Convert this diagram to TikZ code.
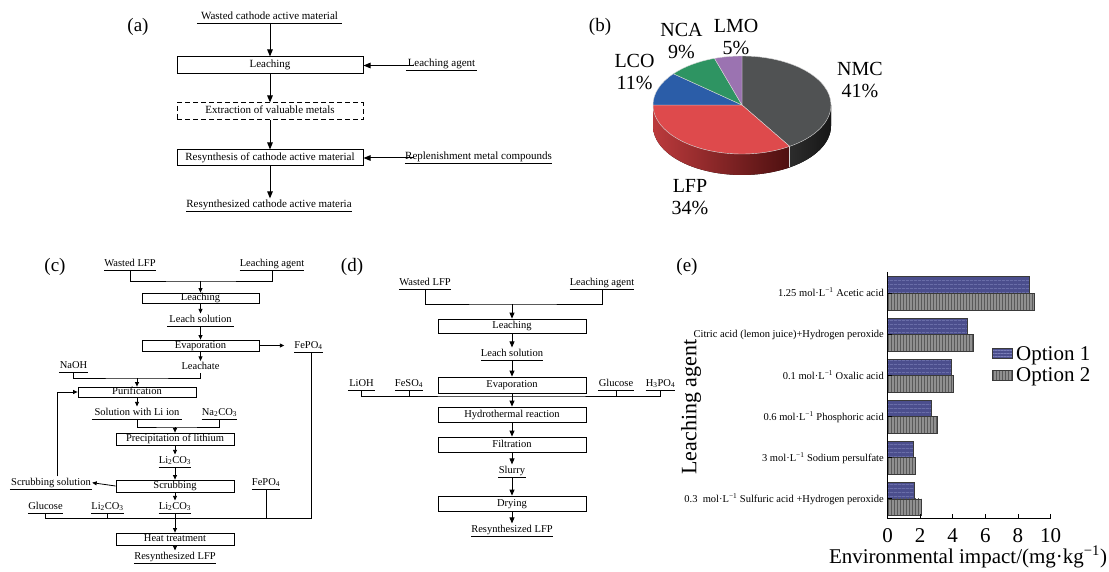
\documentclass[tikz,border=0pt]{standalone}
\usepackage{fontspec}
\setmainfont{Liberation Serif}
\usetikzlibrary{arrows.meta,patterns.meta}
\definecolor{nmcT}{HTML}{505253}
\definecolor{nmcS1}{HTML}{2C2C2C}
\definecolor{nmcS2}{HTML}{161616}
\definecolor{lfpT}{HTML}{DE4A4C}
\definecolor{lfpS1}{HTML}{BB3A3C}
\definecolor{lfpS2}{HTML}{4E1010}
\definecolor{lcoC}{HTML}{2B5DA8}
\definecolor{ncaC}{HTML}{2E9462}
\definecolor{lmoC}{HTML}{9B73B1}
\definecolor{oneF}{HTML}{4B4E8D}
\definecolor{oneL}{HTML}{7A7EB8}
\definecolor{twoF}{HTML}{909090}
\definecolor{twoL}{HTML}{5A5A5A}
\definecolor{edgeC}{HTML}{3A3A3A}
\definecolor{sepC}{HTML}{D8D8D8}
\begin{document}
\begin{tikzpicture}[x=1pt,y=-1pt,
  sm/.style={font=\fontsize{10.5}{12}\selectfont},
  sma/.style={font=\fontsize{11}{12}\selectfont},
  ul/.style={sm, inner xsep=0pt, inner ysep=1.2pt, text height=7.5pt, text depth=2.3pt, anchor=south},
  tx/.style={sm, inner sep=1pt, text height=7.5pt, text depth=2.3pt},
  bx/.style={draw, line width=0.8pt, sm, inner sep=0pt, text height=7pt, text depth=2pt, align=center},
  ln/.style={line width=0.8pt},
  arA/.style={line width=1pt, -{Triangle[length=7pt,width=5.5pt]}},
  arC/.style={ln, -{Triangle[length=4.5pt,width=4pt]}},
  arD/.style={ln, -{Triangle[length=6pt,width=5pt]}},
  pl/.style={font=\fontsize{19}{22}\selectfont},
  pielbl/.style={font=\fontsize{20}{22}\selectfont, align=center, inner sep=0pt},
  big/.style={font=\fontsize{21}{24}\selectfont},
  cat/.style={sm, anchor=base east, inner sep=0pt},
]
\fill[white] (0,0) rectangle (1109,572);
\useasboundingbox (0,0) rectangle (1109,572);

% ---------------- panel labels
\node[pl] (pa) at (138,27) {(a)};
\node[pl] (pb) at (600,27) {(b)};
\node[pl] (pc) at (55,267) {(c)};
\node[pl] (pd) at (352,267) {(d)};
\node[pl] (pe) at (687,267) {(e)};

% ---------------- (a)
\node[ul, sma, minimum width=145pt] (wa) at (269.5,23) {Wasted cathode active material};
\node[bx, sma, line width=1pt, minimum width=186pt, minimum height=17pt] (aleach) at (270,65.5) {Leaching};
\node[ul, sma, minimum width=71pt] (laga) at (441.5,70) {Leaching agent};
\node[bx, sma, line width=1pt, dash pattern=on 5pt off 3pt, minimum width=186pt, minimum height=17pt] (aextr) at (270,111.5) {Extraction of valuable metals};
\node[bx, sma, line width=1pt, minimum width=186pt, minimum height=16pt] (aresyn) at (270,158) {Resynthesis of cathode active material};
\node[ul, sma, minimum width=143pt] (rep) at (478.5,163) {Replenishment metal compounds};
\node[ul, sma, minimum width=162pt] (ra) at (269,211) {Resynthesized cathode active materia};

\draw[arA] (aleach.north |- wa.south) -- (aleach.north);
\draw[arA] (aleach.south) -- (aextr.north);
\draw[arA] (aextr.south) -- (aresyn.north);
\draw[arA] (aresyn.south) -- (aresyn.south |- ra.north);
\draw[arA, shorten <=-8pt] (laga.west |- aleach.east) -- (aleach.east);
\draw[arA, shorten <=-9pt] (rep.west |- aresyn.east) -- (aresyn.east);

% ---------------- (b) pie
\begin{scope}[shift={(742,105)}]
  \fill[left color=lfpS1, right color=lfpS2] (180:89pt and 49pt) arc[start angle=180, end angle=302.4, x radius=89pt, y radius=49pt] -- ++(0pt,-21pt) arc[start angle=302.4, end angle=180, x radius=89pt, y radius=49pt] -- cycle;
  \fill[left color=nmcS1, right color=nmcS2] (302.4:89pt and 49pt) arc[start angle=302.4, end angle=360, x radius=89pt, y radius=49pt] -- ++(0pt,-21pt) arc[start angle=360, end angle=302.4, x radius=89pt, y radius=49pt] -- cycle;
  \draw[sepC, line width=0.4pt] (302.4:89pt and 49pt) -- ++(0pt,-21pt);
  \filldraw[fill=nmcT, draw=sepC, line width=0.4pt] (0pt,0pt) -- (90:89pt and 49pt) arc[start angle=90, end angle=-57.6, x radius=89pt, y radius=49pt] -- cycle;
  \filldraw[fill=lfpT, draw=sepC, line width=0.4pt] (0pt,0pt) -- (-57.6:89pt and 49pt) arc[start angle=-57.6, end angle=-180, x radius=89pt, y radius=49pt] -- cycle;
  \filldraw[fill=lcoC, draw=sepC, line width=0.4pt] (0pt,0pt) -- (180:89pt and 49pt) arc[start angle=180, end angle=140.4, x radius=89pt, y radius=49pt] -- cycle;
  \filldraw[fill=ncaC, draw=sepC, line width=0.4pt] (0pt,0pt) -- (140.4:89pt and 49pt) arc[start angle=140.4, end angle=108, x radius=89pt, y radius=49pt] -- cycle;
  \filldraw[fill=lmoC, draw=sepC, line width=0.4pt] (0pt,0pt) -- (108:89pt and 49pt) arc[start angle=108, end angle=90, x radius=89pt, y radius=49pt] -- cycle;
\end{scope}
\node[pielbl] (lnmc) at (860,80) {NMC\\41\%};
\node[pielbl] (llfp) at (690,197.5) {LFP\\34\%};
\node[pielbl] (llco) at (634.5,72) {LCO\\11\%};
\node[pielbl] (lnca) at (681.5,41) {NCA\\9\%};
\node[pielbl] (llmo) at (736,37) {LMO\\5\%};

% ---------------- (c)
\node[ul, minimum width=40pt] (wlc) at (130,270) {Wasted LFP};
\node[ul, minimum width=62pt] (lagc) at (272,270) {Leaching agent};
\coordinate (jc1) at (200.5,281);
\node[bx, minimum width=117pt, minimum height=10pt] (cleach) at (200.5,298) {Leaching};
\node[ul, minimum width=66pt] (lsc) at (200.5,326) {Leach solution};
\node[bx, minimum width=117pt, minimum height=11pt] (cevap) at (200.5,345.5) {Evaporation};
\node[ul, minimum width=20pt] (fepoa) at (308.5,352) {FePO\textsubscript{4}};
\node[tx] (lch) at (200.5,367) {Leachate};
\node[ul, minimum width=29pt] (naoh) at (73.5,372) {NaOH};
\coordinate (jc2) at (137,378);
\node[bx, minimum width=118pt, minimum height=10pt] (purif) at (137,392) {Purification};
\node[ul, minimum width=90pt] (soli) at (137,419) {Solution with Li ion};
\node[ul, minimum width=35pt] (naco) at (219.5,419) {Na\textsubscript{2}CO\textsubscript{3}};
\coordinate (jc3) at (175,427);
\node[bx, minimum width=118pt, minimum height=12pt] (precip) at (175,439) {Precipitation of lithium};
\node[ul, minimum width=32pt] (lica) at (175,467) {Li\textsubscript{2}CO\textsubscript{3}};
\node[bx, minimum width=118pt, minimum height=12pt] (scrub) at (175,486) {Scrubbing};
\node[ul, minimum width=82pt] (scrsol) at (51,489) {Scrubbing solution};
\node[ul, minimum width=28pt] (fepob) at (266,489) {FePO\textsubscript{4}};
\node[ul, minimum width=35pt] (gluc) at (45.5,513) {Glucose};
\node[ul, minimum width=31pt] (licb) at (107.5,513) {Li\textsubscript{2}CO\textsubscript{3}};
\node[ul, minimum width=32pt] (licc) at (175,513) {Li\textsubscript{2}CO\textsubscript{3}};
\coordinate (jc4) at (175,518.5);
\node[bx, minimum width=118pt, minimum height=12pt] (heat) at (175,539) {Heat treatment};
\node[ul, minimum width=82pt] (resc) at (175,563) {Resynthesized LFP};

\draw[ln] (wlc.south) |- (jc1) -| (lagc.south);
\draw[arC] (jc1) -- (cleach.north);
\draw[arC] (cleach.south) -- (lsc.north);
\draw[arC] (lsc.south) -- (cevap.north);
\draw[arC, shorten >=10pt] (cevap.east) -- (cevap.east -| fepoa.west);
\draw[arC] (cevap.south) -- (lch.north);
\draw[ln] (naoh.south) |- (jc2) -| (lch.south);
\draw[arC] (jc2) -- (purif.north);
\draw[arC] ([xshift=6pt]scrsol.north) |- (purif.west);
\draw[arC] (purif.south) -- (soli.north);
\draw[ln] (soli.south) |- (jc3) -| (naco.south);
\draw[arC] (jc3) -- (precip.north);
\draw[arC] (precip.south) -- (lica.north);
\draw[arC] (lica.south) -- (scrub.north);
\draw[arC] (scrub.west) -- (scrsol.east);
\draw[arC] (scrub.south) -- (licc.north);
\draw[ln] (gluc.south) |- (jc4);
\draw[ln] ([xshift=3pt]fepoa.south) |- (jc4);
\draw[ln] (licb.south) -- (licb.south |- jc4);
\draw[ln] (fepob.south) -- (fepob.south |- jc4);
\draw[arC] (licc.south) -- (heat.north);
\draw[arC] (heat.south) -- (resc.north);

% ---------------- (d)
\node[ul, minimum width=52pt] (wld) at (425,289) {Wasted LFP};
\node[ul, minimum width=64pt] (lagd) at (602,289) {Leaching agent};
\coordinate (jd1) at (512,304);
\node[bx, minimum width=148pt, minimum height=14pt] (dleach) at (512,326) {Leaching};
\node[ul, minimum width=61pt] (lsd) at (512,360) {Leach solution};
\node[bx, minimum width=148pt, minimum height=16pt] (devap) at (512,385) {Evaporation};
\node[ul, minimum width=27pt] (lioh) at (361.5,390) {LiOH};
\node[ul, minimum width=28pt] (feso) at (409,390) {FeSO\textsubscript{4}};
\node[ul, minimum width=36pt] (glud) at (616,390) {Glucose};
\node[ul, minimum width=25pt] (hpo) at (660.5,390) {H\textsubscript{3}PO\textsubscript{4}};
\coordinate (jd2) at (512,396);
\node[bx, minimum width=148pt, minimum height=15pt] (dhydro) at (512,414.5) {Hydrothermal reaction};
\node[bx, minimum width=148pt, minimum height=15pt] (dfilt) at (512,444.5) {Filtration};
\node[ul, minimum width=27pt] (slurry) at (512,477) {Slurry};
\node[bx, minimum width=148pt, minimum height=15pt] (ddry) at (512,503.5) {Drying};
\node[ul, minimum width=79pt] (resd) at (512,536) {Resynthesized LFP};

\draw[ln] (wld.south) |- (jd1) -| (lagd.south);
\draw[arD] (jd1) -- (dleach.north);
\draw[arD] (dleach.south) -- (lsd.north);
\draw[arD] (lsd.south) -- (devap.north);
\draw[ln] (lioh.south) |- (jd2) -| (hpo.south);
\draw[ln] (feso.south) -- (feso.south |- jd2);
\draw[ln] (glud.south) -- (glud.south |- jd2);
\draw[arD] (devap.south) -- (dhydro.north);
\draw[arD] (dhydro.south) -- (dfilt.north);
\draw[arD] (dfilt.south) -- (slurry.north);
\draw[arD] (slurry.south) -- (ddry.north);
\draw[arD] (ddry.south) -- (resd.north);

% underlines
\foreach \n in {wa,laga,rep,ra,wlc,lagc,lsc,fepoa,naoh,soli,naco,lica,scrsol,fepob,gluc,licb,licc,resc,wld,lagd,lsd,lioh,feso,glud,hpo,slurry,resd}
  \draw[line width=0.7pt] (\n.south west) -- (\n.south east);

% ---------------- (e) bar chart
\foreach \v/\w [count=\i] in {8.67/9.02, 4.91/5.26, 3.93/4.06, 2.66/3.05, 1.55/1.73, 1.67/2.06}{
  \pgfmathsetmacro{\c}{293.3+41.1*(\i-1)}
  \pgfmathsetmacro{\xa}{887.5+16.3*\v}
  \pgfmathsetmacro{\xb}{887.5+16.3*\w}
  \fill[oneF] (887.5,\c-16.6) rectangle (\xa,\c);
  \fill[pattern={Lines[angle=0,distance=4pt,line width=0.6pt]}, pattern color=oneL] (887.5,\c-16.6) rectangle (\xa,\c);
  \draw[edgeC, line width=0.5pt] (887.5,\c-16.6) rectangle (\xa,\c);
  \fill[twoF] (887.5,\c) rectangle (\xb,\c+16.6);
  \fill[pattern={Lines[angle=90,distance=3pt,line width=0.5pt]}, pattern color=twoL] (887.5,\c) rectangle (\xb,\c+16.6);
  \draw[edgeC, line width=0.5pt] (887.5,\c) rectangle (\xb,\c+16.6);
  \draw[line width=0.8pt] (887.5,\c) -- (892,\c);
}
\draw[line width=1pt] (887.5,272) -- (887.5,518.3) -- (1051,518.3);
\foreach \k in {0,...,5}{
  \draw[line width=0.8pt] ({887.5+32.6*\k},518.3) -- ({887.5+32.6*\k},514);
  \pgfmathtruncatemacro{\lab}{2*\k}
  \node[big, anchor=base, inner sep=0pt] at ({887.5+32.6*\k},542) {\lab};
}
\node[cat] (c1) at (884,296.8) {1.25 mol·L\textsuperscript{−1} Acetic acid};
\node[cat] (c2) at (884,337.9) {Citric acid (lemon juice)+Hydrogen peroxide};
\node[cat] (c3) at (884,379) {0.1 mol·L\textsuperscript{−1} Oxalic acid};
\node[cat] (c4) at (884,420.1) {0.6 mol·L\textsuperscript{−1} Phosphoric acid};
\node[cat] (c5) at (884,461.2) {3 mol·L\textsuperscript{−1} Sodium persulfate};
\node[cat] (c6) at (884,502.3) {0.3\ \ mol·L\textsuperscript{−1} Sulfuric acid +Hydrogen peroxide};
\node[big, rotate=90, font=\fontsize{22}{24}\selectfont] (ylab) at (691,407) {Leaching agent};
\node[big, anchor=base, inner sep=0pt] (xlab) at (968,563) {Environmental impact/(mg·kg\textsuperscript{−1})};
% legend
\fill[oneF] (992,348.3) rectangle (1012,358.3);
\fill[pattern={Lines[angle=0,distance=3pt,line width=0.6pt]}, pattern color=oneL] (992,348.3) rectangle (1012,358.3);
\draw[edgeC, line width=0.5pt] (992,348.3) rectangle (1012,358.3);
\fill[twoF] (992,370) rectangle (1012,380.7);
\fill[pattern={Lines[angle=90,distance=3pt,line width=0.5pt]}, pattern color=twoL] (992,370) rectangle (1012,380.7);
\draw[edgeC, line width=0.5pt] (992,370) rectangle (1012,380.7);
\node[big, anchor=base west, inner sep=0pt] (o1) at (1016,360) {Option 1};
\node[big, anchor=base west, inner sep=0pt] (o2) at (1016,381.5) {Option 2};
\end{tikzpicture}
\end{document}
